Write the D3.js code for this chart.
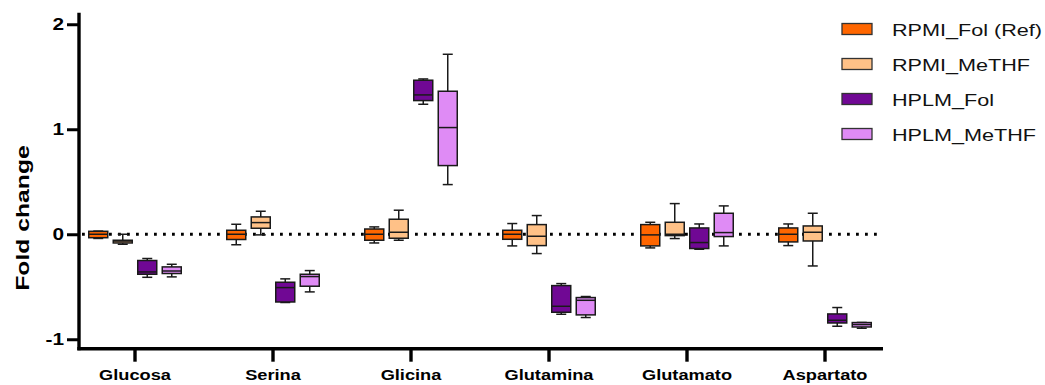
<!DOCTYPE html>
<html>
<head>
<meta charset="utf-8">
<script src="https://cdn.jsdelivr.net/npm/d3@7"></script>
<style>
  body { margin: 0; background: #fff; }
  svg { display: block; font-family: Arial, "Liberation Sans", sans-serif; }
</style>
</head>
<body>
<svg id="chart" width="1045" height="385"></svg>
<script>
const categories = ["Glucosa", "Serina", "Glicina", "Glutamina", "Glutamato", "Aspartato"];
const groups = ["RPMI_Fol (Ref)", "RPMI_MeTHF", "HPLM_Fol", "HPLM_MeTHF"];
const colors = ["#ff6600", "#ffc187", "#700894", "#df8bf5"];
const yTicks = [-1, 0, 1, 2];

// each entry: [min, q1, median, q3, max]
const rpmiFol = [
  [-0.04, -0.033, 0, 0.028, 0.03],
  [-0.10, -0.05, 0, 0.038, 0.095],
  [-0.083, -0.057, 0, 0.05, 0.07],
  [-0.111, -0.048, 0, 0.038, 0.102],
  [-0.13, -0.111, -0.006, 0.092, 0.114],
  [-0.108, -0.073, 0, 0.06, 0.098]
];
const rpmiMeTHF = [
  [-0.095, -0.083, -0.065, -0.057, 0],
  [-0.006, 0.057, 0.111, 0.165, 0.219],
  [-0.057, -0.038, 0.019, 0.143, 0.229],
  [-0.184, -0.108, -0.019, 0.092, 0.178],
  [-0.041, -0.013, 0.0, 0.114, 0.292],
  [-0.302, -0.064, 0.019, 0.079, 0.2]
];
const hplmFol = [
  [-0.41, -0.381, -0.359, -0.25, -0.231],
  [-0.65, -0.645, -0.508, -0.457, -0.425],
  [1.238, 1.273, 1.327, 1.467, 1.479],
  [-0.762, -0.743, -0.686, -0.489, -0.47],
  [-0.143, -0.136, -0.079, 0.06, 0.098],
  [-0.876, -0.845, -0.819, -0.759, -0.698]
];
const hplmMeTHF = [
  [-0.406, -0.374, -0.35, -0.311, -0.286],
  [-0.549, -0.495, -0.403, -0.381, -0.346],
  [0.473, 0.654, 1.016, 1.362, 1.714],
  [-0.793, -0.768, -0.629, -0.603, -0.593],
  [-0.111, -0.022, 0.016, 0.2, 0.27],
  [-0.895, -0.883, -0.86, -0.841, -0.84]
];
const series = [rpmiFol, rpmiMeTHF, hplmFol, hplmMeTHF];

const svg = d3.select("#chart");
const axisLeftX = 79, axisRightX = 883;
const stretch = 1.3; // the original text is drawn wide

const x = d3.scaleBand().domain(categories).range([66, 894]);
const xi = d3.scaleBand().domain(groups).range([-49, 49]);
const y = d3.scaleLinear().domain([-1.09, 2.11]).range([348.7, 12.7]);
const boxW = 19, capW = 10;

// dotted zero line
svg.append("line")
  .attr("x1", axisLeftX + 3).attr("x2", axisRightX - 2)
  .attr("y1", y(0)).attr("y2", y(0))
  .attr("stroke", "#000").attr("stroke-width", 2.8)
  .attr("stroke-dasharray", "2.8 6.2");

// boxes
series.forEach((vals, si) => {
  const g = svg.append("g");
  vals.forEach((d, ci) => {
    const cx = x(categories[ci]) + x.bandwidth() / 2 + xi(groups[si]) + xi.bandwidth() / 2;
    const [mn, q1, md, q3, mx] = d;
    const stroke = "#1a1a1a";
    g.append("line").attr("x1", cx).attr("x2", cx).attr("y1", y(mx)).attr("y2", y(mn))
      .attr("stroke", stroke).attr("stroke-width", 1.5);
    [mn, mx].forEach(v => {
      g.append("line").attr("x1", cx - capW / 2).attr("x2", cx + capW / 2)
        .attr("y1", y(v)).attr("y2", y(v)).attr("stroke", stroke).attr("stroke-width", 1.5);
    });
    g.append("rect").attr("x", cx - boxW / 2).attr("width", boxW)
      .attr("y", y(q3)).attr("height", y(q1) - y(q3))
      .attr("fill", colors[si]).attr("stroke", stroke).attr("stroke-width", 1.5);
    g.append("line").attr("x1", cx - boxW / 2).attr("x2", cx + boxW / 2)
      .attr("y1", y(md)).attr("y2", y(md)).attr("stroke", stroke).attr("stroke-width", 1.5);
  });
});

// y axis
const gy = svg.append("g").attr("transform", `translate(${axisLeftX},0)`)
  .call(d3.axisLeft(y).tickValues(yTicks).tickSize(12).tickSizeOuter(0).tickPadding(3)
    .tickFormat(d => String(d)));
gy.select(".domain").remove();
gy.selectAll(".tick line").attr("stroke-width", 3);
gy.selectAll(".tick text").attr("font-size", 16).attr("font-weight", "bold").attr("fill", "#000")
  .attr("font-family", "Arial, 'Liberation Sans', sans-serif");
svg.append("line").attr("x1", axisLeftX).attr("x2", axisLeftX)
  .attr("y1", y.range()[1]).attr("y2", y.range()[0] + 1.5)
  .attr("stroke", "#000").attr("stroke-width", 3.4);

// x axis
const gx = svg.append("g").attr("transform", `translate(0,${y.range()[0]})`)
  .call(d3.axisBottom(x).tickSize(13).tickSizeOuter(0).tickPadding(8));
gx.select(".domain").remove();
gx.selectAll(".tick line").attr("stroke-width", 3.4);
gx.selectAll(".tick text").attr("font-size", 14).attr("font-weight", "bold").attr("fill", "#000")
  .attr("font-family", "Arial, 'Liberation Sans', sans-serif");
svg.append("line").attr("x1", axisLeftX - 1.7).attr("x2", axisRightX)
  .attr("y1", y.range()[0]).attr("y2", y.range()[0])
  .attr("stroke", "#000").attr("stroke-width", 3.4);

// y label
svg.append("text")
  .attr("transform", `translate(29,218) rotate(-90)`)
  .attr("text-anchor", "middle")
  .attr("font-size", 19).attr("font-weight", "bold")
  .text("Fold change");

// widen all text like the original
svg.selectAll("text").each(function () {
  const w = this.getComputedTextLength();
  d3.select(this).attr("textLength", w * stretch).attr("lengthAdjust", "spacingAndGlyphs");
});

// legend
const legend = svg.append("g");
const legendX = 892, legendMaxW = 150;
const labels = groups.map((name, i) => {
  const cy = 29 + i * 35;
  legend.append("rect").attr("x", 842).attr("y", cy - 5.5).attr("width", 30).attr("height", 11)
    .attr("fill", colors[i]).attr("stroke", "#333").attr("stroke-width", 1.3);
  return legend.append("text").attr("x", legendX).attr("y", cy).attr("dy", "0.42em")
    .attr("font-size", 17).attr("fill", "#111").text(name);
});
const widths = labels.map(t => t.node().getComputedTextLength());
const legendStretch = legendMaxW / d3.max(widths);
labels.forEach((t, i) => t.attr("textLength", widths[i] * legendStretch).attr("lengthAdjust", "spacingAndGlyphs"));
</script>
</body>
</html>
